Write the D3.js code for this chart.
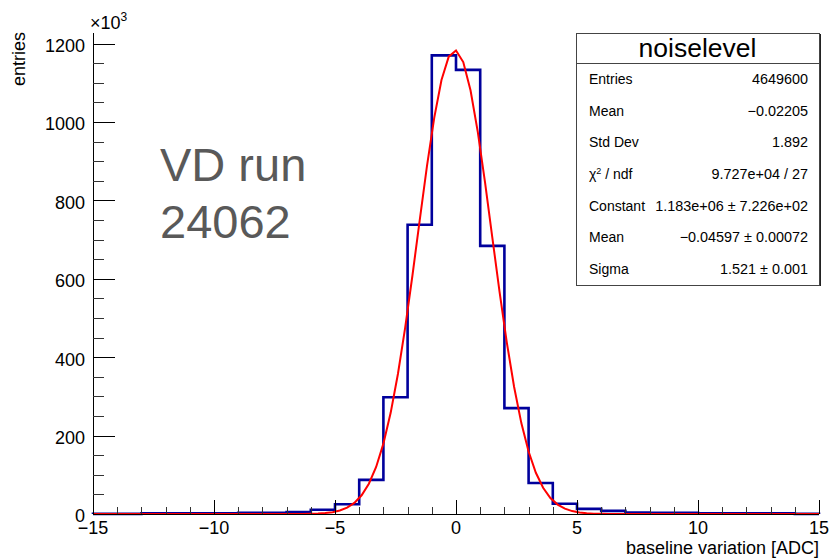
<!DOCTYPE html>
<html>
<head>
<meta charset="utf-8">
<script src="https://cdn.jsdelivr.net/npm/d3@7"></script>
<style>
  html, body { margin: 0; padding: 0; background: #fff; }
  svg { display: block; font-family: "Liberation Sans", Arial, Helvetica, sans-serif; }
</style>
</head>
<body>
<svg id="chart" width="833" height="558"></svg>
<script>
// Histogram "noiselevel": unit-wide bins from -15 to 15, counts in units of 10^3
const binLowEdges = [-15, -14, -13, -12, -11, -10, -9, -8, -7, -6, -5, -4, -3, -2, -1,
                      0, 1, 2, 3, 4, 5, 6, 7, 8, 9, 10, 11, 12, 13, 14];
const binCounts = [0.2, 0.3, 2, 2, 2, 2, 3, 3, 5, 11, 25, 87, 298, 738, 1170,
                   1133, 684, 270, 79, 26, 13, 8, 4, 3, 3, 2, 2, 2, 2, 0.2];
const binWidth = 1;

// Gaussian fit parameters (constant in units of 10^3)
const fitConstant = 1183;
const fitMean = -0.04597;
const fitSigma = 1.521;
const fitPoints = 100;

// Axis ticks
const xMajorTicks = [-15, -10, -5, 0, 5, 10, 15];
const xMinorTicks = d3.range(-15, 15.001, 1);
const yMajorTicks = [0, 200, 400, 600, 800, 1000, 1200];
const yMinorTicks = d3.range(0, 1226, 50);

// Statistics box rows
const statLabels = ["Entries", "Mean", "Std Dev", "chi2", "Constant", "Mean", "Sigma"];
const statValues = ["4649600", "\u22120.02205", "1.892", "9.727e+04 / 27",
                    "1.183e+06 \u00b1 7.226e+02", "\u22120.04597 \u00b1 0.00072", "1.521 \u00b1 0.001"];

const svg = d3.select("#chart");
const frame = { left: 93, right: 819, top: 33, bottom: 514 };

const x = d3.scaleLinear().domain([-15, 15]).range([frame.left, frame.right]);
const y = d3.scaleLinear().domain([0, 1227]).range([frame.bottom, frame.top]);

// Histogram outline
const histPts = [[binLowEdges[0], 0]];
binLowEdges.forEach((lo, i) => {
  histPts.push([lo, binCounts[i]]);
  histPts.push([lo + binWidth, binCounts[i]]);
});
histPts.push([binLowEdges[binLowEdges.length - 1] + binWidth, 0]);

const line = d3.line().x(d => x(d[0])).y(d => y(d[1]));
svg.append("path")
  .attr("d", line(histPts))
  .attr("fill", "none")
  .attr("stroke", "#00009c")
  .attr("stroke-width", 2.6)
  .attr("stroke-linejoin", "miter");

// Fit curve
const gauss = v => fitConstant * Math.exp(-0.5 * Math.pow((v - fitMean) / fitSigma, 2));
const fitXs = d3.range(fitPoints + 1).map(i => -15 + 30 * i / fitPoints);
svg.append("path")
  .attr("d", line(fitXs.map(v => [v, gauss(v)])))
  .attr("fill", "none")
  .attr("stroke", "#ff0000")
  .attr("stroke-width", 2);

// Axes
const axisG = svg.append("g").attr("stroke", "#000").attr("stroke-width", 1);
axisG.append("line").attr("x1", frame.left).attr("x2", frame.right)
  .attr("y1", frame.bottom + 0.5).attr("y2", frame.bottom + 0.5);
axisG.append("line").attr("x1", frame.left + 0.5).attr("x2", frame.left + 0.5)
  .attr("y1", frame.top).attr("y2", frame.bottom);

xMinorTicks.forEach(t => {
  const major = xMajorTicks.includes(t);
  axisG.append("line")
    .attr("x1", Math.round(x(t)) + 0.5).attr("x2", Math.round(x(t)) + 0.5)
    .attr("y1", frame.bottom).attr("y2", frame.bottom - (major ? 14 : 7))
    .attr("stroke", major ? "#000" : "#333");
});
yMinorTicks.forEach(t => {
  const major = yMajorTicks.includes(t);
  axisG.append("line")
    .attr("x1", frame.left).attr("x2", frame.left + (major ? 22 : 11))
    .attr("y1", Math.round(y(t)) + 0.5).attr("y2", Math.round(y(t)) + 0.5)
    .attr("stroke", major ? "#000" : "#333");
});

const fmt = v => (v < 0 ? "\u2212" : "") + Math.abs(v);
svg.append("g").selectAll("text").data(xMajorTicks).join("text")
  .attr("x", d => x(d)).attr("y", 534)
  .attr("text-anchor", "middle").attr("font-size", 18).attr("fill", "#000")
  .text(fmt);
svg.append("g").selectAll("text").data(yMajorTicks).join("text")
  .attr("x", 85).attr("y", d => y(d) + (d === 0 ? 7.5 : 8.5))
  .attr("text-anchor", "end").attr("font-size", 18).attr("fill", "#000")
  .text(d => d);

// Exponent label
const expo = svg.append("text").attr("x", 90).attr("y", 29).attr("font-size", 18).attr("fill", "#000");
expo.append("tspan").text("\u00d710");
expo.append("tspan").attr("dy", -8).attr("font-size", 12).text("3");

// Axis titles
svg.append("text")
  .attr("x", frame.right).attr("y", 554)
  .attr("text-anchor", "end").attr("font-size", 18).attr("fill", "#000")
  .text("baseline variation [ADC]");
svg.append("text")
  .attr("transform", "translate(25,32) rotate(-90)")
  .attr("text-anchor", "end").attr("font-size", 18).attr("fill", "#000")
  .text("entries");

// Run annotation
const note = svg.append("text").attr("font-size", 47).attr("fill", "#595959");
note.append("tspan").attr("x", 160).attr("y", 181).text("VD run");
note.append("tspan").attr("x", 160).attr("y", 238).text("24062");

// Statistics box
const box = { x0: 576, x1: 819, y0: 33, y1: 285, titleBottom: 63 };
const sb = svg.append("g");
sb.append("rect")
  .attr("x", box.x0 + 0.5).attr("y", box.y0 + 0.5)
  .attr("width", box.x1 - box.x0).attr("height", box.y1 - box.y0)
  .attr("fill", "#fff").attr("stroke", "#444").attr("stroke-width", 1);
sb.append("line")
  .attr("x1", box.x1 + 1.5).attr("x2", box.x1 + 1.5)
  .attr("y1", box.y0 + 1).attr("y2", box.y1 + 1)
  .attr("stroke", "#222").attr("stroke-width", 1);
sb.append("line")
  .attr("x1", box.x0).attr("x2", box.x1)
  .attr("y1", box.titleBottom + 0.5).attr("y2", box.titleBottom + 0.5)
  .attr("stroke", "#444").attr("stroke-width", 1);
sb.append("text")
  .attr("x", (box.x0 + box.x1) / 2).attr("y", 57)
  .attr("text-anchor", "middle").attr("font-size", 26.5).attr("fill", "#000")
  .text("noiselevel");

const rowH = (box.y1 - box.titleBottom) / statLabels.length;
statLabels.forEach((lab, i) => {
  const cy = box.titleBottom + rowH * (i + 0.5) + 5;
  const t = sb.append("text").attr("x", 589).attr("y", cy)
    .attr("font-size", 14).attr("fill", "#000");
  if (lab === "chi2") {
    t.append("tspan").text("\u03c7");
    t.append("tspan").attr("dy", -5).attr("font-size", 9).text("2");
    t.append("tspan").attr("dy", 5).text(" / ndf");
  } else {
    t.text(lab);
  }
  sb.append("text").attr("x", 808).attr("y", cy)
    .attr("text-anchor", "end").attr("font-size", 14.4).attr("fill", "#000")
    .text(statValues[i]);
});
</script>
</body>
</html>
